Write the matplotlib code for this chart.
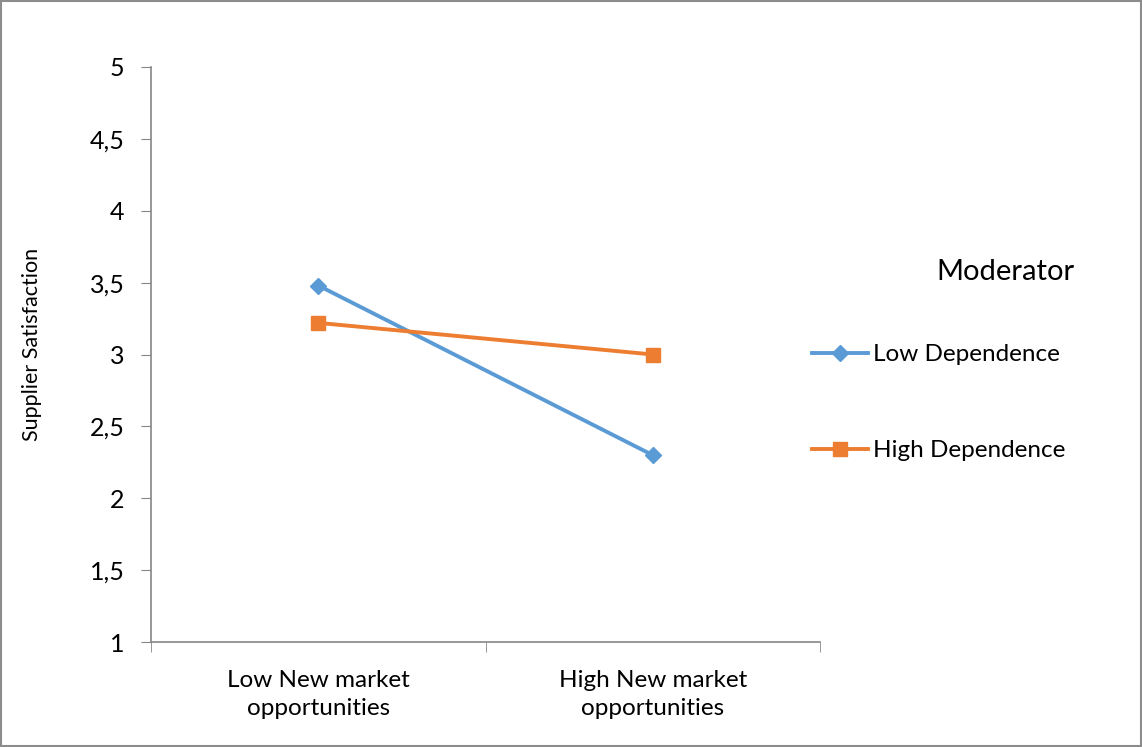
import matplotlib.pyplot as plt
from matplotlib.patches import Rectangle
from matplotlib.ticker import FixedLocator, FuncFormatter

categories = ['Low New market\nopportunities', 'High New market\nopportunities']
low_dependence = [3.48, 2.30]
high_dependence = [3.22, 3.00]
y_ticks = [1, 1.5, 2, 2.5, 3, 3.5, 4, 4.5, 5]

plt.rcParams['font.family'] = ['Lato', 'DejaVu Sans']

fig = plt.figure(figsize=(11.42, 7.47), dpi=100)
ax = fig.add_axes([151 / 1142, 105 / 747, 669 / 1142, 575 / 747])

x = [0.5, 1.5]
ax.plot(x, low_dependence, color='#5B9BD5', lw=2.8, marker='D', ms=8,
        label='Low Dependence')
ax.plot(x, high_dependence, color='#ED7D31', lw=2.8, marker='s', ms=10,
        label='High Dependence')

ax.set_xlim(0, 2)
ax.set_ylim(1, 5)
ax.set_yticks(y_ticks)
ax.yaxis.set_major_formatter(FuncFormatter(lambda v, p: ('%g' % v).replace('.', ',')))
ax.set_xticks(x)
ax.set_xticklabels(categories, linespacing=1.45)
ax.xaxis.set_minor_locator(FixedLocator([0, 1, 2]))
ax.tick_params(axis='x', which='major', length=0, pad=20, labelsize=17.5)
ax.tick_params(axis='x', which='minor', length=7, color='#868686', direction='out')
ax.tick_params(axis='y', length=7, color='#868686', pad=12, labelsize=18)

for s in ['top', 'right']:
    ax.spines[s].set_visible(False)
for s in ['left', 'bottom']:
    ax.spines[s].set_color('#868686')
    ax.spines[s].set_linewidth(1.2)

ax.set_ylabel('Supplier Satisfaction', fontsize=15.5)
ax.yaxis.set_label_coords(-0.163, 0.518)

fig.text(1005 / 1142, 1 - 272 / 747, 'Moderator', fontsize=21, ha='center', va='center')
fig.legend(loc='upper left', bbox_to_anchor=(812 / 1142, 1 - 344 / 747), frameon=False,
           fontsize=17.5, handlelength=2.3, handletextpad=0.2, labelspacing=3.1,
           borderpad=0, borderaxespad=0)

fig.add_artist(Rectangle((0.001, 0.001), 0.998, 0.997, transform=fig.transFigure,
                         fill=False, edgecolor='#8c8c8c', lw=1.5))

fig.savefig('out.png', dpi=100)
